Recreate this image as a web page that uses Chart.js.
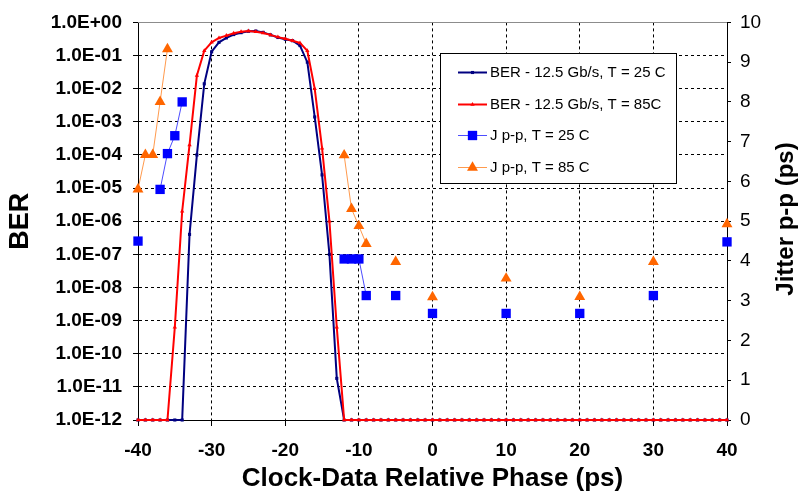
<!DOCTYPE html>
<html>
<head>
<meta charset="utf-8">
<title>BER and jitter vs clock-data relative phase</title>
<script src="https://cdn.jsdelivr.net/npm/chart.js@4.4.1/dist/chart.umd.min.js"></script>
<style>
  html, body { margin: 0; padding: 0; background: #fff; }
  #chart { display: block; }
</style>
</head>
<body>
<canvas id="chart" width="801" height="492"></canvas>
<script>
// Phase sweep (ps) used for both BER curves
const phase = [
  -40, -39, -38, -37, -36, -35, -34, -33, -32, -31,
  -30, -29, -28, -27, -26, -25, -24, -23, -22, -21,
  -20, -19, -18, -17, -16, -15, -14, -13, -12, -11,
  -10, -9, -8, -7, -6, -5, -4, -3, -2, -1,
  0, 1, 2, 3, 4, 5, 6, 7, 8, 9,
  10, 11, 12, 13, 14, 15, 16, 17, 18, 19,
  20, 21, 22, 23, 24, 25, 26, 27, 28, 29,
  30, 31, 32, 33, 34, 35, 36, 37, 38, 39,
  40
];

// BER at 25 C
const ber25 = [
  1e-12, 1e-12, 1e-12, 1e-12, 1e-12, 1e-12, 1e-12, 4e-7, 1e-4, 1.4e-2,
  1.3e-1, 2.5e-1, 3.4e-1, 4.3e-1, 4.9e-1, 5.4e-1, 5.5e-1, 5.0e-1, 4.2e-1, 3.5e-1,
  3.1e-1, 2.8e-1, 2.0e-1, 6.3e-2, 1.4e-3, 2.5e-5, 1e-7, 1.8e-11, 1e-12, 1e-12,
  1e-12, 1e-12, 1e-12, 1e-12, 1e-12, 1e-12, 1e-12, 1e-12, 1e-12, 1e-12,
  1e-12, 1e-12, 1e-12, 1e-12, 1e-12, 1e-12, 1e-12, 1e-12, 1e-12, 1e-12,
  1e-12, 1e-12, 1e-12, 1e-12, 1e-12, 1e-12, 1e-12, 1e-12, 1e-12, 1e-12,
  1e-12, 1e-12, 1e-12, 1e-12, 1e-12, 1e-12, 1e-12, 1e-12, 1e-12, 1e-12,
  1e-12, 1e-12, 1e-12, 1e-12, 1e-12, 1e-12, 1e-12, 1e-12, 1e-12, 1e-12,
  1e-12
];

// BER at 85 C
const ber85 = [
  1e-12, 1e-12, 1e-12, 1e-12, 1e-12, 6.3e-10, 2e-6, 2e-4, 2.5e-2, 1.4e-1,
  2.5e-1, 3.4e-1, 4.0e-1, 4.7e-1, 5.2e-1, 5.5e-1, 5.2e-1, 4.8e-1, 4.2e-1, 3.6e-1,
  3.2e-1, 2.8e-1, 2.4e-1, 1.4e-1, 1e-2, 1.6e-4, 1e-6, 6.3e-10, 1e-12, 1e-12,
  1e-12, 1e-12, 1e-12, 1e-12, 1e-12, 1e-12, 1e-12, 1e-12, 1e-12, 1e-12,
  1e-12, 1e-12, 1e-12, 1e-12, 1e-12, 1e-12, 1e-12, 1e-12, 1e-12, 1e-12,
  1e-12, 1e-12, 1e-12, 1e-12, 1e-12, 1e-12, 1e-12, 1e-12, 1e-12, 1e-12,
  1e-12, 1e-12, 1e-12, 1e-12, 1e-12, 1e-12, 1e-12, 1e-12, 1e-12, 1e-12,
  1e-12, 1e-12, 1e-12, 1e-12, 1e-12, 1e-12, 1e-12, 1e-12, 1e-12, 1e-12,
  1e-12
];

// Jitter p-p (ps); null entries break the connecting line
const jitPhase25 = [-40, -38.5, -37, -36, -35, -34, -20, -12, -11, -10, -9, -7, -5, -2.5, 0, 5, 10, 15, 20, 25, 30, 35, 40];
const jit25 = [4.5, null, 5.8, 6.7, 7.15, 8.0, null, 4.05, 4.05, 4.05, 3.13, null, 3.13, null, 2.68, null, 2.68, null, 2.68, null, 3.13, null, 4.48];

const jitPhase85 = [-40, -39, -38, -37, -36, -20, -12, -11, -10, -9, -7, -5, -2.5, 0, 5, 10, 15, 20, 25, 30, 35, 40];
const jit85 = [5.8, 6.67, 6.67, 8.0, 9.33, null, 6.66, 5.31, 4.88, 4.43, null, 3.98, null, 3.09, null, 3.56, null, 3.1, null, 3.98, null, 4.93];

// Axis ticks
const berTicks = [1e-12, 1e-11, 1e-10, 1e-9, 1e-8, 1e-7, 1e-6, 1e-5, 1e-4, 1e-3, 1e-2, 1e-1, 1];
const berTickLabels = ['1.0E-12', '1.0E-11', '1.0E-10', '1.0E-09', '1.0E-08', '1.0E-07', '1.0E-06',
  '1.0E-05', '1.0E-04', '1.0E-03', '1.0E-02', '1.0E-01', '1.0E+00'];

const FONT = "Arial, 'Liberation Sans', sans-serif";
Chart.defaults.font.family = FONT;
Chart.defaults.color = '#000';

function toPoints(xs, ys) {
  return xs.map((x, i) => ({ x: x, y: ys[i] }));
}

// Marker drawing shared by the legend (same geometry as Chart.js point styles)
function drawMarker(ctx, style, x, y, r, color) {
  ctx.fillStyle = color;
  ctx.beginPath();
  if (style === 'rect') {
    const s = r * Math.SQRT1_2;
    ctx.rect(x - s, y - s, 2 * s, 2 * s);
  } else {
    ctx.moveTo(x, y - r);
    ctx.lineTo(x + r * Math.sin(2 * Math.PI / 3), y - r * Math.cos(2 * Math.PI / 3));
    ctx.lineTo(x + r * Math.sin(4 * Math.PI / 3), y - r * Math.cos(4 * Math.PI / 3));
    ctx.closePath();
  }
  ctx.fill();
}

const backdrop = {
  id: 'backdrop',
  beforeDraw(chart) {
    const ctx = chart.ctx;
    ctx.save();
    ctx.fillStyle = '#fff';
    ctx.fillRect(0, 0, chart.width, chart.height);
    ctx.restore();
  },
  beforeDatasetsDraw(chart) {
    // grey top edge of the plot area
    const { ctx, chartArea: a } = chart;
    ctx.save();
    ctx.strokeStyle = '#8c8c8c';
    ctx.lineWidth = 1;
    ctx.beginPath();
    ctx.moveTo(a.left, Math.round(a.top) + 0.5);
    ctx.lineTo(a.right, Math.round(a.top) + 0.5);
    ctx.stroke();
    ctx.restore();
  }
};

// Boxed legend inside the plot and the right axis title (reads bottom to top)
const boxLegend = {
  id: 'boxLegend',
  afterDraw(chart) {
    const ctx = chart.ctx;
    ctx.save();
    ctx.fillStyle = '#fff';
    ctx.fillRect(440.5, 53.5, 236, 130);
    ctx.strokeStyle = '#000';
    ctx.lineWidth = 1;
    ctx.strokeRect(440.5, 53.5, 236, 130);

    ctx.font = '15px ' + FONT;
    ctx.textBaseline = 'middle';
    ctx.textAlign = 'left';
    chart.data.datasets.forEach((ds, i) => {
      const y = Math.round(72 + i * 31.7);
      ctx.strokeStyle = ds.borderColor;
      ctx.lineWidth = ds.borderWidth;
      ctx.beginPath();
      ctx.moveTo(458, y + 0.5);
      ctx.lineTo(487, y + 0.5);
      ctx.stroke();
      drawMarker(ctx, ds.pointStyle, 472.5, y + 0.5, ds.pointRadius, ds.pointBackgroundColor);
      ctx.fillStyle = '#000';
      ctx.fillText(ds.label, 490, y + 1);
    });

    ctx.translate(793, 219);
    ctx.rotate(-Math.PI / 2);
    ctx.font = 'bold 24px ' + FONT;
    ctx.textAlign = 'center';
    ctx.textBaseline = 'alphabetic';
    ctx.fillText('Jitter p-p (ps)', 0, 0);
    ctx.restore();
  }
};

const edgeHidden = (first, last) => (c) =>
  (c.index === first || c.index === last) ? 'rgba(0,0,0,0)' : '#000';

new Chart(document.getElementById('chart'), {
  type: 'line',
  data: {
    datasets: [
      {
        label: 'BER - 12.5 Gb/s, T = 25 C',
        data: toPoints(phase, ber25),
        yAxisID: 'y',
        borderColor: '#000080',
        backgroundColor: '#000080',
        pointBackgroundColor: '#000080',
        pointBorderColor: '#000080',
        borderWidth: 2,
        pointStyle: 'rect',
        pointRadius: 2.2,
        pointBorderWidth: 0,
        order: 4,
        clip: false
      },
      {
        label: 'BER - 12.5 Gb/s, T = 85C',
        data: toPoints(phase, ber85),
        yAxisID: 'y',
        borderColor: '#ff0000',
        backgroundColor: '#ff0000',
        pointBackgroundColor: '#ff0000',
        pointBorderColor: '#ff0000',
        borderWidth: 2,
        pointStyle: 'triangle',
        pointRadius: 2.5,
        pointBorderWidth: 0,
        order: 3,
        clip: false
      },
      {
        label: 'J p-p, T = 25 C',
        data: toPoints(jitPhase25, jit25),
        yAxisID: 'y2',
        borderColor: '#4d4dff',
        backgroundColor: '#0000ff',
        pointBackgroundColor: '#0000ff',
        pointBorderColor: '#0000ff',
        borderWidth: 1,
        pointStyle: 'rect',
        pointRadius: 6.6,
        pointBorderWidth: 0,
        order: 2,
        clip: false
      },
      {
        label: 'J p-p, T = 85 C',
        data: toPoints(jitPhase85, jit85),
        yAxisID: 'y2',
        borderColor: '#ff9a4d',
        backgroundColor: '#ff6600',
        pointBackgroundColor: '#ff6600',
        pointBorderColor: '#ff6600',
        borderWidth: 1,
        pointStyle: 'triangle',
        pointRadius: 6.3,
        pointBorderWidth: 0,
        order: 1,
        clip: false
      }
    ]
  },
  options: {
    responsive: false,
    animation: false,
    devicePixelRatio: 1,
    spanGaps: false,
    layout: { padding: { top: 18, left: 0, right: 0, bottom: 0 } },
    elements: { line: { tension: 0 } },
    plugins: {
      legend: { display: false },
      tooltip: { enabled: false }
    },
    scales: {
      x: {
        type: 'linear',
        position: 'bottom',
        min: -40,
        max: 40,
        afterFit: (s) => { s.height = 72; },
        ticks: {
          stepSize: 10,
          padding: 13,
          color: '#000',
          font: { size: 19, weight: 'bold', lineHeight: 1.2 }
        },
        grid: {
          color: edgeHidden(0, 8),
          lineWidth: 1,
          tickLength: 6,
          tickColor: '#000',
          tickWidth: 1
        },
        border: { display: true, color: '#000', width: 1, dash: [3, 3] },
        title: {
          display: true,
          text: 'Clock-Data Relative Phase (ps)',
          color: '#000',
          font: { size: 26, weight: 'bold', lineHeight: 1 },
          padding: { top: 0, bottom: 0 }
        }
      },
      y: {
        type: 'logarithmic',
        position: 'left',
        min: 1e-12,
        max: 1,
        afterFit: (s) => { s.width = 138; },
        afterBuildTicks: (s) => { s.ticks = berTicks.map(v => ({ value: v })); },
        ticks: {
          padding: 11,
          color: '#000',
          font: { size: 19, weight: 'bold', lineHeight: 1.2 },
          callback: (v) => berTickLabels[berTicks.indexOf(v)]
        },
        grid: {
          color: edgeHidden(0, 12),
          lineWidth: 1,
          tickLength: 5,
          tickColor: '#000',
          tickWidth: 1
        },
        border: { display: true, color: '#000', width: 1, dash: [3, 3] },
        title: {
          display: true,
          text: 'BER',
          color: '#000',
          font: { size: 27, weight: 'bold', lineHeight: 1 },
          padding: { top: 7, bottom: 0 }
        }
      },
      y2: {
        type: 'linear',
        position: 'right',
        min: 0,
        max: 10,
        afterFit: (s) => { s.width = 74; },
        ticks: {
          stepSize: 1,
          padding: 9,
          color: '#000',
          font: { size: 19, weight: 'normal', lineHeight: 1.2 }
        },
        grid: {
          drawOnChartArea: false,
          tickLength: 4,
          tickColor: '#000',
          tickWidth: 1
        },
        border: { display: true, color: '#000', width: 1 }
      }
    }
  },
  plugins: [backdrop, boxLegend]
});
</script>
</body>
</html>
